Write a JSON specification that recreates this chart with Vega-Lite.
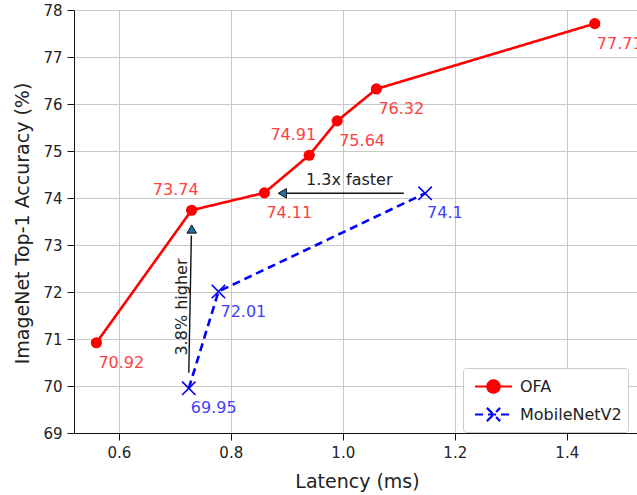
{
  "$schema": "https://vega.github.io/schema/vega-lite/v6.json",
  "width": 563,
  "height": 423,
  "autosize": {"type": "none"},
  "padding": {"left": 74, "top": 10, "right": 0, "bottom": 62},
  "background": "white",
  "config": {
    "view": {"stroke": null},
    "font": "DejaVu Sans",
    "axis": {
      "labelFont": "DejaVu Sans",
      "titleFont": "DejaVu Sans",
      "labelFontSize": 15,
      "titleFontSize": 19,
      "titleFontWeight": "normal",
      "labelColor": "#222222",
      "titleColor": "#222222",
      "domainColor": "#111111",
      "domainWidth": 1,
      "tickColor": "#111111",
      "tickSize": 7,
      "labelPadding": 5,
      "gridColor": "#c8c8c8",
      "gridWidth": 1
    },
    "legend": {
      "labelFont": "DejaVu Sans",
      "labelFontSize": 16,
      "labelColor": "#222222"
    }
  },
  "datasets": {
    "pts": [
      {"model": "OFA", "lat": 0.56, "acc": 70.92},
      {"model": "OFA", "lat": 0.73, "acc": 73.74},
      {"model": "OFA", "lat": 0.86, "acc": 74.11},
      {"model": "OFA", "lat": 0.94, "acc": 74.91},
      {"model": "OFA", "lat": 0.99, "acc": 75.64},
      {"model": "OFA", "lat": 1.06, "acc": 76.32},
      {"model": "OFA", "lat": 1.45, "acc": 77.71},
      {"model": "MobileNetV2", "lat": 0.725, "acc": 69.95},
      {"model": "MobileNetV2", "lat": 0.778, "acc": 72.01},
      {"model": "MobileNetV2", "lat": 1.147, "acc": 74.1}
    ],
    "arrows": [
      {"note": "faster", "x0": 1.109, "y0": 74.1, "x1": 0.9, "y1": 74.1},
      {"note": "higher", "x0": 0.725, "y0": 70.28, "x1": 0.7296, "y1": 73.2}
    ],
    "heads": [
      {"note": "faster", "x": 0.892, "y": 74.1},
      {"note": "higher", "x": 0.7302, "y": 73.34}
    ],
    "notes": [
      {"note": "1.3x faster", "x": 1.0116, "y": 74.38},
      {"note": "3.8% higher", "x": 0.7134, "y": 71.68}
    ]
  },
  "layer": [
    {
      "data": {"name": "pts"},
      "mark": {"type": "line", "strokeWidth": 2.6},
      "encoding": {
        "x": {
          "field": "lat", "type": "quantitative",
          "scale": {"domain": [0.52, 1.5254], "nice": false, "zero": false},
          "axis": {
            "values": [0.6, 0.8, 1.0, 1.2, 1.4], "format": ".1f",
            "title": "Latency (ms)",
            "titleX": 283, "titleY": 54, "titleAlign": "center", "titleBaseline": "alphabetic", "titleAnchor": null
          }
        },
        "y": {
          "field": "acc", "type": "quantitative",
          "scale": {"domain": [69, 78], "nice": false, "zero": false},
          "axis": {
            "values": [69, 70, 71, 72, 73, 74, 75, 76, 77, 78],
            "title": "ImageNet Top-1 Accuracy (%)",
            "titleX": -52, "titleY": 213, "titleAngle": 270, "titleAlign": "center", "titleBaseline": "middle", "titleAnchor": null
          }
        },
        "color": {
          "field": "model", "type": "nominal",
          "scale": {"domain": ["OFA", "MobileNetV2"], "range": ["#ff0000", "#0000ff"]},
          "legend": {
            "title": null,
            "orient": "none",
            "legendX": 389,
            "legendY": 358,
            "padding": 6,
            "fillColor": "white",
            "strokeColor": "#cccccc",
            "cornerRadius": 3,
            "symbolSize": 484,
            "symbolOffset": 12,
            "symbolStrokeWidth": 2.2,
            "labelOffset": 14,
            "rowPadding": 4,
            "encode": {
              "symbols": {
                "update": {
                  "shape": {"signal": "datum.value === 'OFA' ? 'M-1.68,0H1.68M0.56,0A0.56,0.56,0,1,1,-0.56,0A0.56,0.56,0,1,1,0.56,0Z' : 'M-1.68,0H1.68M-0.6,-0.6L0.6,0.6M-0.6,0.6L0.6,-0.6'"},
                  "fill": {"signal": "datum.value === 'OFA' ? '#ff0000' : 'transparent'"},
                  "stroke": {"signal": "datum.value === 'OFA' ? '#ff0000' : '#0000ff'"},
                  "strokeDash": {"value": [1, 0]},
                  "opacity": {"value": 1},
                  "fillOpacity": {"value": 1}
                }
              }
            }
          }
        },
        "strokeDash": {
          "field": "model", "type": "nominal",
          "scale": {"domain": ["OFA", "MobileNetV2"], "range": [[1, 0], [8, 5]]},
          "legend": null
        }
      }
    },
    {
      "mark": {"type": "rule", "color": "#111111", "strokeWidth": 1},
      "encoding": {"y": {"datum": 78}}
    },
    {
      "data": {"name": "pts"},
      "transform": [{"filter": "datum.model === 'OFA'"}],
      "mark": {"type": "point", "shape": "circle", "filled": true, "color": "#ff0000", "size": 125, "opacity": 1},
      "encoding": {
        "x": {"field": "lat", "type": "quantitative"},
        "y": {"field": "acc", "type": "quantitative"}
      }
    },
    {
      "data": {"name": "pts"},
      "transform": [{"filter": "datum.model === 'MobileNetV2'"}],
      "mark": {"type": "point", "shape": "M-1,-1L1,1M-1,1L1,-1", "filled": false, "stroke": "#0000ff", "strokeWidth": 1.6, "size": 180, "opacity": 1},
      "encoding": {
        "x": {"field": "lat", "type": "quantitative"},
        "y": {"field": "acc", "type": "quantitative"}
      }
    },
    {
      "data": {"name": "pts"},
      "transform": [{"filter": "datum.model === 'OFA' && datum.acc !== 73.74 && datum.acc !== 74.91"}],
      "mark": {"type": "text", "align": "left", "baseline": "middle", "dx": 2, "dy": 20, "fontSize": 16, "color": "#ff4040"},
      "encoding": {
        "x": {"field": "lat", "type": "quantitative"},
        "y": {"field": "acc", "type": "quantitative"},
        "text": {"field": "acc", "type": "nominal"}
      }
    },
    {
      "data": {"name": "pts"},
      "transform": [{"filter": "datum.model === 'OFA' && (datum.acc === 73.74 || datum.acc === 74.91)"}],
      "mark": {"type": "text", "align": "right", "baseline": "middle", "dx": 7, "dy": -20, "fontSize": 16, "color": "#ff4040"},
      "encoding": {
        "x": {"field": "lat", "type": "quantitative"},
        "y": {"field": "acc", "type": "quantitative"},
        "text": {"field": "acc", "type": "nominal"}
      }
    },
    {
      "data": {"name": "pts"},
      "transform": [{"filter": "datum.model === 'MobileNetV2'"}],
      "mark": {"type": "text", "align": "left", "baseline": "middle", "dx": 2, "dy": 20, "fontSize": 16, "color": "#4040ff"},
      "encoding": {
        "x": {"field": "lat", "type": "quantitative"},
        "y": {"field": "acc", "type": "quantitative"},
        "text": {"field": "acc", "type": "nominal"}
      }
    },
    {
      "data": {"name": "arrows"},
      "mark": {"type": "rule", "color": "#111111", "strokeWidth": 1.4},
      "encoding": {
        "x": {"field": "x0", "type": "quantitative"},
        "y": {"field": "y0", "type": "quantitative"},
        "x2": {"field": "x1"},
        "y2": {"field": "y1"}
      }
    },
    {
      "data": {"name": "heads"},
      "transform": [{"filter": "datum.note === 'faster'"}],
      "mark": {"type": "point", "shape": "triangle-left", "filled": true, "fill": "#1f6fa8", "stroke": "#111111", "strokeWidth": 1, "size": 90, "opacity": 1},
      "encoding": {
        "x": {"field": "x", "type": "quantitative"},
        "y": {"field": "y", "type": "quantitative"}
      }
    },
    {
      "data": {"name": "heads"},
      "transform": [{"filter": "datum.note === 'higher'"}],
      "mark": {"type": "point", "shape": "triangle-up", "filled": true, "fill": "#1f6fa8", "stroke": "#111111", "strokeWidth": 1, "size": 90, "opacity": 1},
      "encoding": {
        "x": {"field": "x", "type": "quantitative"},
        "y": {"field": "y", "type": "quantitative"}
      }
    },
    {
      "data": {"name": "notes"},
      "transform": [{"filter": "datum.note === '1.3x faster'"}],
      "mark": {"type": "text", "align": "center", "baseline": "middle", "fontSize": 16, "color": "#222222"},
      "encoding": {
        "x": {"field": "x", "type": "quantitative"},
        "y": {"field": "y", "type": "quantitative"},
        "text": {"field": "note", "type": "nominal"}
      }
    },
    {
      "data": {"name": "notes"},
      "transform": [{"filter": "datum.note === '3.8% higher'"}],
      "mark": {"type": "text", "align": "center", "baseline": "middle", "angle": 270, "fontSize": 16, "color": "#222222"},
      "encoding": {
        "x": {"field": "x", "type": "quantitative"},
        "y": {"field": "y", "type": "quantitative"},
        "text": {"field": "note", "type": "nominal"}
      }
    }
  ]
}
